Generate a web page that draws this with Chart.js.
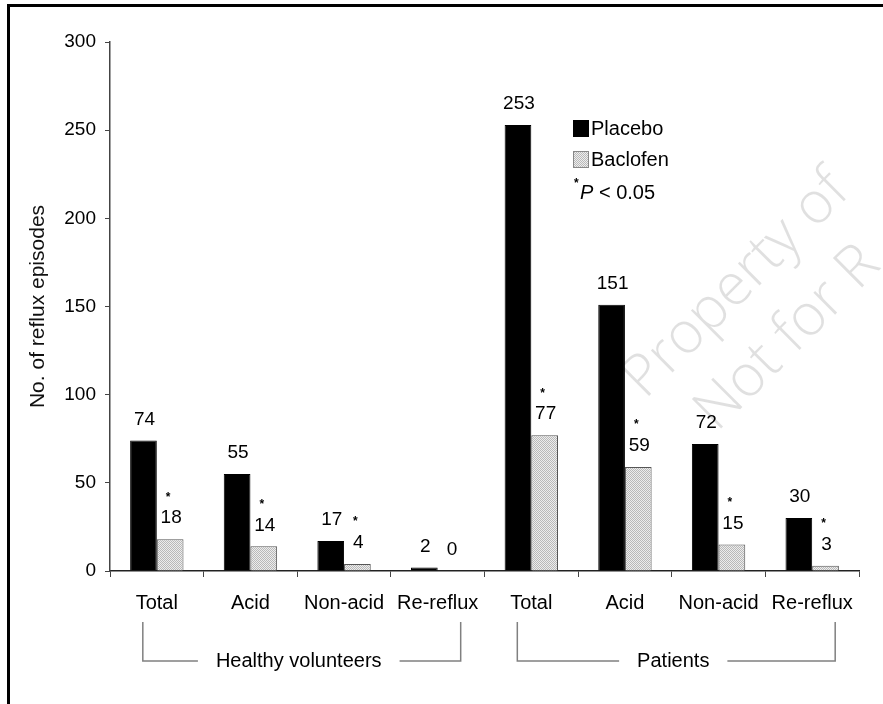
<!DOCTYPE html>
<html>
<head>
<meta charset="utf-8">
<title>Reflux episodes</title>
<script src="https://cdn.jsdelivr.net/npm/chart.js@4.4.1/dist/chart.umd.min.js"></script>
<style>
  body { margin: 0; background: #fff; }
  #wrap { position: relative; width: 883px; height: 704px; }
  #frame { position: absolute; left: 7px; top: 4px; right: 0; bottom: 0;
           border-left: 3px solid #000; border-top: 3px solid #000; pointer-events: none; }
</style>
</head>
<body>
<div id="wrap">
  <canvas id="refluxChart" width="883" height="704"></canvas>
  <div id="frame"></div>
</div>
<script>
var categories = ['Total', 'Acid', 'Non-acid', 'Re-reflux', 'Total', 'Acid', 'Non-acid', 'Re-reflux'];
var placebo = [74, 55, 17, 2, 253, 151, 72, 30];
var baclofen = [18, 14, 4, 0, 77, 59, 15, 3];
var significant = [true, true, true, false, true, true, true, true];
var groups = ['Healthy volunteers', 'Patients'];
var groupRanges = [[0, 3], [4, 7]];
var yTicks = [0, 50, 100, 150, 200, 250, 300];

var FONT = '"Liberation Sans", Arial, Helvetica, sans-serif';

// light stipple pattern for the Baclofen bars
function stipple() {
  var c = document.createElement('canvas');
  c.width = 2; c.height = 2;
  var g = c.getContext('2d');
  g.fillStyle = '#ededed';
  g.fillRect(0, 0, 2, 2);
  g.fillStyle = '#b9b9b9';
  g.fillRect(0, 0, 1, 1);
  g.fillRect(1, 1, 1, 1);
  return g.createPattern(c, 'repeat');
}
var dotted = stipple();

var extrasPlugin = {
  id: 'extras',
  beforeDatasetsDraw: function (chart) {
    // faint watermark
    var ctx = chart.ctx;
    ctx.save();
    ctx.fillStyle = 'rgba(0,0,0,0.12)';
    ctx.font = '300 58px "Open Sans", sans-serif';
    ctx.translate(645, 400);
    ctx.rotate(-45 * Math.PI / 180);
    ctx.textBaseline = 'alphabetic';
    ctx.fillText('Property of', 0, 0);
    ctx.fillText('Not for R', 28, 74);
    ctx.restore();
  },
  afterDatasetsDraw: function (chart) {
    var ctx = chart.ctx;
    ctx.save();
    ctx.fillStyle = '#000';
    ctx.textAlign = 'center';
    ctx.textBaseline = 'middle';
    chart.data.datasets.forEach(function (ds, di) {
      chart.getDatasetMeta(di).data.forEach(function (bar, i) {
        var ly = bar.y - 21;
        ctx.font = '19px ' + FONT;
        ctx.fillText(String(ds.data[i]), bar.x + 1, ly);
        if (di === 1 && significant[i]) {
          ctx.font = 'bold 12px ' + FONT;
          ctx.fillText('*', bar.x - 2, ly - 21);
        }
      });
    });
    ctx.restore();
  },
  afterDraw: function (chart) {
    var ctx = chart.ctx;
    var x = chart.scales.x;
    var area = chart.chartArea;
    ctx.save();

    // group brackets under the category labels
    ctx.strokeStyle = '#808080';
    ctx.lineWidth = 1.5;
    ctx.fillStyle = '#000';
    ctx.font = '20px ' + FONT;
    ctx.textAlign = 'center';
    ctx.textBaseline = 'middle';
    var top = 622, bot = 661;
    groupRanges.forEach(function (r, g) {
      var l = x.getPixelForValue(r[0]) - 14;
      var rr = x.getPixelForValue(r[1]) + 23;
      var mid = (l + rr) / 2 - 3;
      var half = ctx.measureText(groups[g]).width / 2 + 18;
      ctx.beginPath();
      ctx.moveTo(l, top); ctx.lineTo(l, bot); ctx.lineTo(mid - half, bot);
      ctx.moveTo(mid + half, bot); ctx.lineTo(rr, bot); ctx.lineTo(rr, top);
      ctx.stroke();
      ctx.fillText(groups[g], mid, bot);
    });

    // legend
    var lx = area.left + 463, ly = area.top + 78;
    ctx.textAlign = 'left';
    ctx.font = '20px ' + FONT;
    ctx.fillStyle = '#000';
    ctx.fillRect(lx, ly, 16, 17);
    ctx.fillText('Placebo', lx + 18, ly + 9);
    ctx.fillStyle = dotted;
    ctx.fillRect(lx, ly + 31, 16, 17);
    ctx.strokeStyle = '#888';
    ctx.lineWidth = 1;
    ctx.strokeRect(lx + 0.5, ly + 31.5, 15, 16);
    ctx.fillStyle = '#000';
    ctx.fillText('Baclofen', lx + 18, ly + 40);
    ctx.font = 'bold 12px ' + FONT;
    ctx.fillText('*', lx + 1, ly + 64);
    ctx.font = 'italic 20px ' + FONT;
    ctx.fillText('P', lx + 7, ly + 73);
    var pw = ctx.measureText('P').width;
    ctx.font = '20px ' + FONT;
    ctx.fillText(' < 0.05', lx + 7 + pw, ly + 73);
    ctx.restore();
  }
};

new Chart(document.getElementById('refluxChart').getContext('2d'), {
  type: 'bar',
  data: {
    labels: categories,
    datasets: [
      {
        label: 'Placebo',
        data: placebo,
        backgroundColor: '#000',
        borderColor: '#000',
        borderWidth: 1
      },
      {
        label: 'Baclofen',
        data: baclofen,
        backgroundColor: dotted,
        borderColor: '#555',
        borderWidth: 1
      }
    ]
  },
  options: {
    responsive: false,
    animation: false,
    layout: { padding: { left: 0, top: 42, right: 24, bottom: 0 } },
    datasets: { bar: { categoryPercentage: 0.57, barPercentage: 1 } },
    plugins: {
      legend: { display: false },
      tooltip: { enabled: false }
    },
    scales: {
      x: {
        afterFit: function (s) { s.height = 133; },
        grid: { drawOnChartArea: false, tickLength: 6, color: '#444', lineWidth: 1 },
        border: { color: '#222', width: 1.5 },
        ticks: { color: '#000', font: { family: FONT, size: 20 }, padding: 14, maxRotation: 0, autoSkip: false }
      },
      y: {
        min: 0,
        max: 300,
        afterFit: function (s) { s.width = 110; },
        afterBuildTicks: function (s) { s.ticks = yTicks.map(function (v) { return { value: v }; }); },
        grid: { drawOnChartArea: false, tickLength: 5, color: '#444' },
        border: { color: '#444', width: 1.5 },
        ticks: { color: '#000', font: { family: FONT, size: 19 }, padding: 9 },
        title: {
          display: true,
          text: 'No. of reflux episodes',
          color: '#111',
          font: { family: FONT, size: 21 },
          padding: { top: 26, bottom: 0 }
        }
      }
    }
  },
  plugins: [extrasPlugin]
});
</script>
</body>
</html>
